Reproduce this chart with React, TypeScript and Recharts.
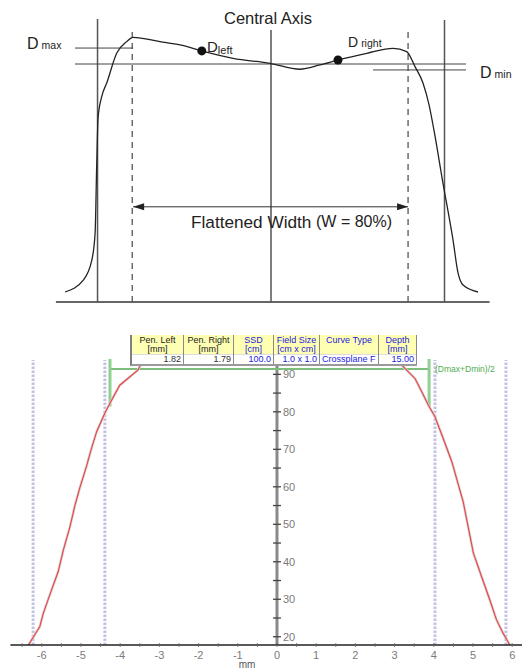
import React from "react";
import { LineChart, Line, XAxis, YAxis, ReferenceLine, ReferenceDot } from "recharts";

// ---- schematic profile (x in half field widths, dose in % of central axis) ----
const schematicX = [-1.187, -1.082, -1.033, -1.014, -1.005, -0.997, -0.976, -0.947, -0.889, -0.832, -0.795, -0.64, -0.524, -0.399, -0.219, -0.006, 0.167, 0.282, 0.386, 0.552, 0.703, 0.782, 0.83, 0.876, 0.911, 0.939, 0.991, 1.049, 1.078, 1.107, 1.193];
const schematicDose = [4.2, 9.2, 17.6, 29.0, 56.8, 77.3, 86.3, 92.0, 104.6, 109.4, 111.2, 109.4, 108.0, 105.5, 102.4, 100.3, 97.8, 99.6, 101.7, 104.5, 106.6, 105.2, 98.9, 92.0, 82.8, 72.3, 50.0, 26.1, 12.2, 7.1, 4.2];
const fieldEdgeX = [-1, 0, 1];
const fieldEdgeTop = [118.9, 114.3, 118.5];
const flatEdgeX = [-0.8, 0.79];
const dLeft = { x: -0.399, y: 105.5 };
const dRight = { x: 0.386, y: 101.7 };
const dMaxLevel = 106.7;
const dMinLevel = 97.5;
const refLevel = 100;
const widthArrowLevel = 40;

// ---- measured crossplane profile ----
const leftPos = [-6.34, -6.05, -5.96, -5.75, -5.58, -5.45, -5.28, -5.15, -5.03, -4.85, -4.73, -4.6, -4.39, -4.24, -4.01, -3.55, -3.45];
const leftDose = [17.8, 22.7, 26.3, 32.5, 37.4, 43.1, 49.4, 55.2, 59.7, 65.8, 70.3, 74.7, 79.7, 82.7, 87.1, 91.1, 93.0];
const rightPos = [3.14, 3.52, 3.69, 3.86, 4.03, 4.24, 4.46, 4.75, 5.01, 5.22, 5.43, 5.6, 5.77, 5.94];
const rightDose = [92.9, 88.9, 85.4, 81.8, 78.7, 72.9, 66.7, 56.0, 42.3, 36.0, 29.8, 24.5, 20.9, 17.8];
const penumbraX = [-6.22, -4.39, 4.03, 5.84];
const halfLevel = 91.4;
const halfMarkX = [-4.26, 3.88];
const halfMarkRange = [81.4, 94.1];
const xTicks = [-6.5, -6, -5.5, -5, -4.5, -4, -3.5, -3, -2.5, -2, -1.5, -1, -0.5, 0, 0.5, 1, 1.5, 2, 2.5, 3, 3.5, 4, 4.5, 5, 5.5, 6];
const yTicks = [20, 25, 30, 35, 40, 45, 50, 55, 60, 65, 70, 75, 80, 85, 90];

// ---- results table ----
const tableHeads = [["Pen. Left", "[mm]"], ["Pen. Right", "[mm]"], ["SSD", "[cm]"], ["Field Size", "[cm x cm]"], ["Curve Type", ""], ["Depth", "[mm]"]];
const tableValues = ["1.82", "1.79", "100.0", "1.0 x 1.0", "Crossplane F", "15.00"];
const tableBlue = [false, false, true, true, true, true];
const tableAlign = ["right", "right", "right", "right", "left", "right"];
const colWidths = [52, 50, 40, 46, 59, 38];

const schematicData = schematicX.map((x, i) => ({ x, dose: schematicDose[i] }));
const leftData = leftPos.map((x, i) => ({ x, dose: leftDose[i] }));
const rightData = rightPos.map((x, i) => ({ x, dose: rightDose[i] }));

const FONT = "'Liberation Sans', Arial, sans-serif";

const arrowHead = (dir: number) => (p: any) => (
  <path d={`M${p.cx},${p.cy} l${-dir * 11},-3.5 l0,7 z`} fill="#222" />
);

const yTickMark = (v: number) => (p: any) => (
  <g>
    <line x1={p.cx - 4} x2={p.cx + 4} y1={p.cy} y2={p.cy} stroke="#444" strokeWidth={1.3} />
    {v % 10 === 0 && (
      <text x={p.cx + 6} y={p.cy + 4} fontSize={11} fill="#7a7a7a" fontFamily={FONT}>
        {v}
      </text>
    )}
  </g>
);

function MmTick({ x, y, payload }: any) {
  const v = payload.value;
  return (
    <g>
      <line x1={x} x2={x} y1={y - 2} y2={y + 2} stroke="#666" strokeWidth={0.8} />
      {Number.isInteger(v) && (
        <text x={x} y={y + 14} textAnchor="middle" fontSize={11} fill="#7a7a7a" fontFamily={FONT}>
          {v}
        </text>
      )}
    </g>
  );
}

function SchematicChart() {
  return (
    <LineChart width={523} height={310} data={schematicData} margin={{ top: 16.4, right: 33.4, bottom: 8, left: 55.9 }}>
      <XAxis hide type="number" dataKey="x" domain={[-1.24, 1.26]} allowDataOverflow />
      <YAxis hide type="number" domain={[0, 120]} allowDataOverflow />
      <ReferenceLine y={0} stroke="#666" strokeWidth={2} />
      {fieldEdgeX.map((x, i) => (
        <ReferenceLine key={x} segment={[{ x, y: 0 }, { x, y: fieldEdgeTop[i] }]} stroke="#555" strokeWidth={1.5} />
      ))}
      {flatEdgeX.map((x) => (
        <ReferenceLine key={x} segment={[{ x, y: 0 }, { x, y: 113.5 }]} stroke="#555" strokeWidth={1.3} strokeDasharray="6 5" />
      ))}
      <ReferenceLine segment={[{ x: -1.13, y: refLevel }, { x: 1.124, y: refLevel }]} stroke="#444" strokeWidth={1} />
      <ReferenceLine segment={[{ x: -1.13, y: dMaxLevel }, { x: -0.795, y: dMaxLevel }]} stroke="#444" strokeWidth={1} />
      <ReferenceLine segment={[{ x: 0.588, y: dMinLevel }, { x: 1.124, y: dMinLevel }]} stroke="#444" strokeWidth={1} />
      <ReferenceLine segment={[{ x: -0.795, y: widthArrowLevel }, { x: 0.79, y: widthArrowLevel }]} stroke="#333" strokeWidth={1} />
      <ReferenceDot x={-0.795} y={widthArrowLevel} shape={arrowHead(-1)} />
      <ReferenceDot x={0.79} y={widthArrowLevel} shape={arrowHead(1)} />
      <Line type="monotone" dataKey="dose" stroke="#222" strokeWidth={1.3} dot={false} isAnimationActive={false} />
      <ReferenceDot x={dLeft.x} y={dLeft.y} r={4.5} fill="#111" stroke="none" />
      <ReferenceDot x={dRight.x} y={dRight.y} r={4.5} fill="#111" stroke="none" />
    </LineChart>
  );
}

function ProfileChart() {
  return (
    <LineChart width={523} height={340} margin={{ top: 25.6, right: 1, bottom: 5, left: 10.4 }}>
      <XAxis
        type="number"
        dataKey="x"
        domain={[-6.8, 6.25]}
        allowDataOverflow
        ticks={xTicks}
        interval={0}
        tick={<MmTick />}
        tickLine={false}
        tickSize={0}
        tickMargin={0}
        height={20}
        axisLine={{ stroke: "#222", strokeWidth: 1.5 }}
      />
      <YAxis hide type="number" domain={[17.8, 95]} allowDataOverflow />
      {penumbraX.map((x) => (
        <ReferenceLine key={x} segment={[{ x, y: 17.8 }, { x, y: 93.8 }]} stroke="#c2c2e2" strokeWidth={3} strokeDasharray="2.5 1.5" />
      ))}
      <ReferenceLine x={0} stroke="#8a8a8a" strokeWidth={3} />
      {yTicks.map((v) => (
        <ReferenceDot key={v} x={0} y={v} shape={yTickMark(v)} />
      ))}
      <ReferenceLine segment={[{ x: halfMarkX[0], y: halfLevel }, { x: halfMarkX[1], y: halfLevel }]} stroke="#7cbf7c" strokeWidth={2} />
      {halfMarkX.map((x) => (
        <ReferenceLine key={x} segment={[{ x, y: halfMarkRange[0] }, { x, y: halfMarkRange[1] }]} stroke="#90d090" strokeWidth={3} />
      ))}
      <Line data={leftData} type="linear" dataKey="dose" stroke="#d2d2d2" strokeWidth={2.6} dot={false} isAnimationActive={false} />
      <Line data={rightData} type="linear" dataKey="dose" stroke="#d2d2d2" strokeWidth={2.6} dot={false} isAnimationActive={false} />
      <Line data={leftData} type="linear" dataKey="dose" stroke="#f04040" strokeWidth={1.1} dot={false} isAnimationActive={false} />
      <Line data={rightData} type="linear" dataKey="dose" stroke="#f04040" strokeWidth={1.1} dot={false} isAnimationActive={false} />
    </LineChart>
  );
}

function ResultTable() {
  return (
    <div
      style={{
        position: "absolute",
        left: 130,
        top: 335,
        display: "flex",
        fontFamily: FONT,
        borderLeft: "2px solid #808080",
        borderBottom: "2px solid #9a9a9a",
        background: "#fff",
      }}
    >
      {tableHeads.map((h, i) => (
        <div key={i} style={{ width: colWidths[i], boxSizing: "border-box", borderRight: "1px solid #8a8a8a" }}>
          <div
            style={{
              height: 19,
              background: "#ffffb4",
              textAlign: "center",
              fontSize: 9,
              lineHeight: "9px",
              paddingTop: 1,
              boxSizing: "border-box",
              color: tableBlue[i] ? "#2222dd" : "#222",
              whiteSpace: "nowrap",
            }}
          >
            {h[0]}
            <br />
            {h[1]}
          </div>
          <div
            style={{
              height: 9,
              fontSize: 9,
              lineHeight: "9px",
              textAlign: tableAlign[i] as any,
              padding: "0 2px",
              color: tableBlue[i] ? "#2222dd" : "#333",
              whiteSpace: "nowrap",
              overflow: "hidden",
              borderTop: "1px solid #ddd",
            }}
          >
            {tableValues[i]}
          </div>
        </div>
      ))}
    </div>
  );
}

export default function App() {
  return (
    <div style={{ position: "absolute", left: 0, top: 0, width: 523, height: 670, background: "#fff", fontFamily: FONT, overflow: "hidden" }}>
      <div style={{ position: "absolute", left: 0, top: 0 }}>
        <SchematicChart />
      </div>
      <div style={{ position: "absolute", left: 0, top: 330 }}>
        <ProfileChart />
      </div>
      <ResultTable />
      <svg width={523} height={670} style={{ position: "absolute", left: 0, top: 0, pointerEvents: "none" }} fontFamily={FONT}>
        <text x={268} y={24} textAnchor="middle" fontSize={16.5} fill="#222">Central Axis</text>
        <text x={27} y={49} fill="#222">
          <tspan fontSize={16}>D</tspan>
          <tspan fontSize={10.5} dx={3}>max</tspan>
        </text>
        <text x={207} y={51.5} fill="#222">
          <tspan fontSize={15}>D</tspan>
          <tspan fontSize={11} dy={2}>left</tspan>
        </text>
        <text x={348} y={47} fill="#222">
          <tspan fontSize={14}>D</tspan>
          <tspan fontSize={10.5} dx={3}>right</tspan>
        </text>
        <text x={480} y={78} fill="#222">
          <tspan fontSize={16}>D</tspan>
          <tspan fontSize={10.5} dx={3}>min</tspan>
        </text>
        <text x={191} y={228} fontSize={17.2} fill="#222">Flattened Width</text>
        <text x={316} y={227} fontSize={16} fill="#222">(W = 80%)</text>
        <text x={435} y={372} fontSize={8.5} fill="#4fae4f">(Dmax+Dmin)/2</text>
        <text x={247} y={668} textAnchor="middle" fontSize={10} fill="#555">mm</text>
      </svg>
    </div>
  );
}
